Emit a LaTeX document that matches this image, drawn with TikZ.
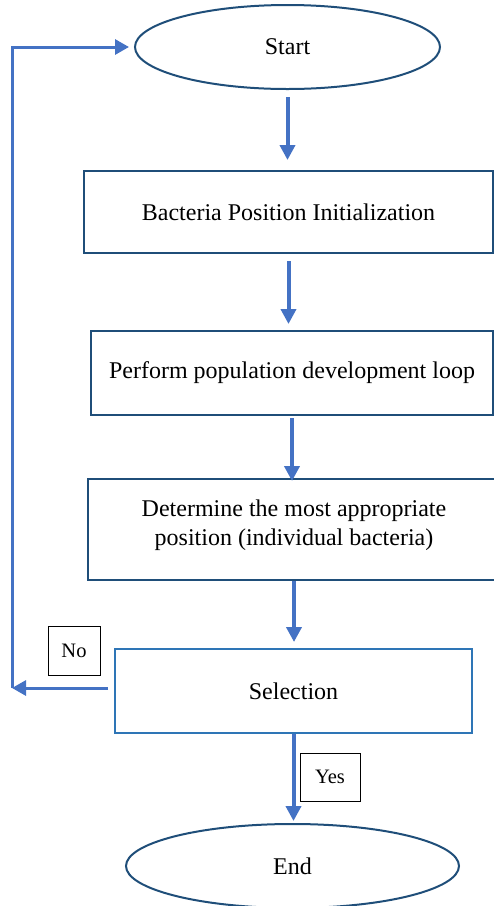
\documentclass[tikz,border=0pt]{standalone}
\usepackage{fontspec}
\setmainfont{Liberation Serif}
\usetikzlibrary{shapes.geometric,arrows.meta}
\definecolor{arrblue}{HTML}{4472C4}
\definecolor{darkbord}{HTML}{1F4E79}
\definecolor{selbord}{HTML}{2E75B6}
\tikzset{
  term/.style={ellipse,draw=darkbord,line width=2pt,inner sep=0pt,font=\fontsize{24}{28}\selectfont},
  procbox/.style={rectangle,draw=darkbord,line width=2pt,inner sep=0pt,align=center,font=\fontsize{24}{29}\selectfont},
  selbox/.style={rectangle,draw=selbord,line width=2pt,inner sep=0pt,font=\fontsize{24}{28}\selectfont},
  lbl/.style={rectangle,draw=black,line width=1pt,inner sep=0pt,font=\fontsize{20.5}{24}\selectfont},
  arr/.style={draw=arrblue,line width=4pt,-{Triangle[length=15pt,width=15pt]}},
  looparr/.style={draw=arrblue,line width=3pt,-{Triangle[length=14pt,width=15pt]}},
}
\begin{document}
\begin{tikzpicture}[x=1pt,y=-1pt]
\useasboundingbox (0,0) rectangle (494,906);
\node[term,minimum width=305pt,minimum height=84pt] (start) at (287.5,47) {Start};
\node[procbox,minimum width=409pt,minimum height=82pt] (b1) at (288.5,212) {Bacteria Position Initialization};
\node[procbox,minimum width=402pt,minimum height=84pt] (b2) at (292,373) {Perform population development loop};
\node[procbox,minimum width=412pt,minimum height=101pt] (b3) at (294,529.5) {Determine the most appropriate\\position (individual bacteria)\\[-15pt]\mbox{}};
\node[selbox,minimum width=357pt,minimum height=84pt] (sel) at (293.5,691) {Selection};
\node[term,minimum width=333pt,minimum height=84pt] (end) at (292.5,866) {End};
\node[lbl,minimum width=52pt,minimum height=49pt] (no) at (74,650.5) {No};
\node[lbl,minimum width=60pt,minimum height=48pt] (yes) at (330,777) {Yes};
\coordinate (lc) at (12,688);
\coordinate (tc) at (12,47);
\draw[arr,shorten <=7pt,shorten >=10pt] (start.south) -- (start.south |- b1.north);
\draw[arr,shorten <=7pt,shorten >=6pt] (b1.south) -- (b1.south |- b2.north);
\draw[arr,shorten <=2pt,shorten >=-3pt] (b2.south) -- (b2.south |- b3.north);
\draw[arr,shorten >=6pt] (b3.south) -- (b3.south |- sel.north);
\draw[arr,shorten >=2pt] (sel.south) -- (sel.south |- end.north);
\draw[looparr,shorten <=6pt] (sel.west |- lc) -- (lc);
\draw[looparr,shorten >=5pt] (lc) -- (tc) -- (start.west);
\end{tikzpicture}
\end{document}
